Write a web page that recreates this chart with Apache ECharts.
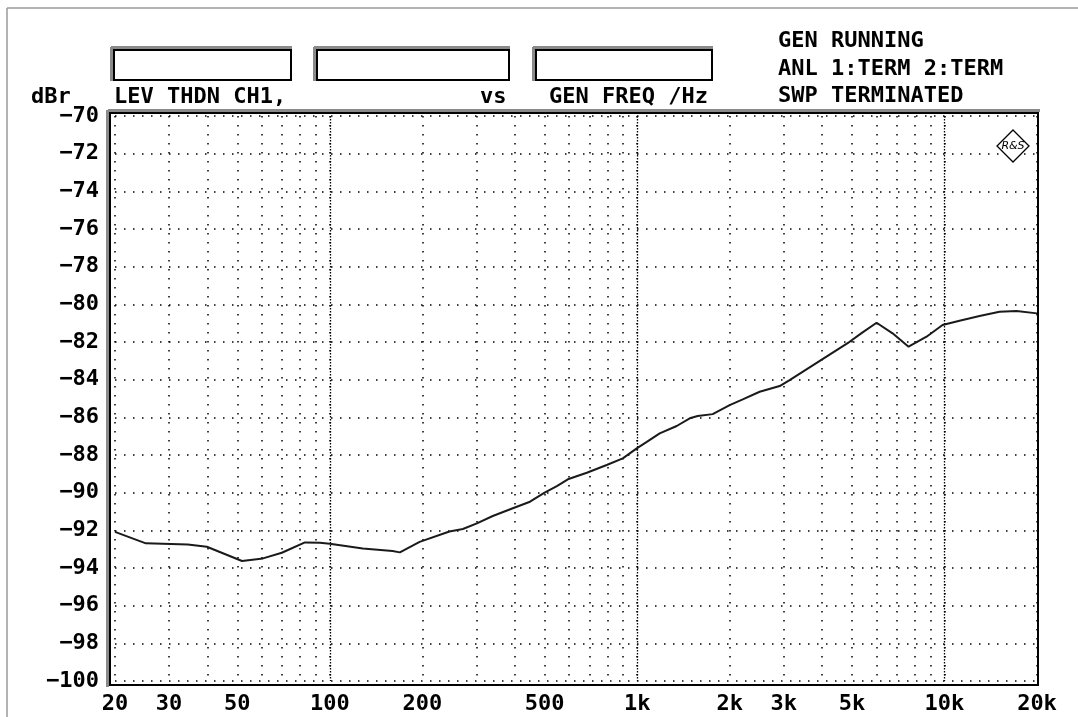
<!DOCTYPE html>
<html><head><meta charset="utf-8">
<script src="https://cdn.jsdelivr.net/npm/echarts@6/dist/echarts.min.js"></script>
<style>html,body{margin:0;padding:0;background:#fff}#c{width:1078px;height:717px}</style>
</head><body><div id="c"></div>
<script>
// ---- data ----
const freqHz = [20, 25.2, 34.5, 39.8, 51.8, 60.6, 69.8, 83, 92.8, 100, 128, 160, 169, 196, 245,
  271, 301, 339, 394, 448, 500, 548, 595, 686, 796, 898, 997, 1075, 1184, 1345, 1483, 1574, 1761,
  2000, 2206, 2504, 2909, 3134, 4912, 5415, 6013, 6778, 7641, 8742, 9857, 11194, 13005, 15101, 17152, 20000];
const thdnDbr = [-92.08, -92.69, -92.75, -92.87, -93.63, -93.49, -93.19, -92.64, -92.66, -92.71, -92.96, -93.10, -93.17, -92.61, -92.06,
  -91.93, -91.63, -91.24, -90.83, -90.48, -90.0, -89.65, -89.29, -88.94, -88.53, -88.18, -87.65, -87.30, -86.85, -86.46, -86.05, -85.93, -85.83,
  -85.35, -85.05, -84.64, -84.34, -84.02, -81.99, -81.49, -80.98, -81.54, -82.25, -81.72, -81.10, -80.87, -80.62, -80.39, -80.36, -80.48];

const xLabelValues = [20, 30, 50, 100, 200, 500, 1000, 2000, 3000, 5000, 10000, 20000];
const xTickLabels = ['20', '30', '50', '100', '200', '500', '1k', '2k', '3k', '5k', '10k', '20k'];
const xGridValues = [20, 30, 40, 50, 60, 70, 80, 90, 100, 200, 300, 400, 500, 600, 700, 800, 900,
  1000, 2000, 3000, 4000, 5000, 6000, 7000, 8000, 9000, 10000, 20000];
const xDecadeValues = [100, 1000, 10000];
const yMin = -100, yMax = -70, yStep = 2;
const yTickLabels = ['−100', '−98', '−96', '−94', '−92', '−90', '−88', '−86', '−84', '−82', '−80', '−78', '−76', '−74', '−72', '−70'];

const headerLeft = ['dBr', 'LEV THDN CH1,', 'vs', 'GEN FREQ /Hz'];
const statusLines = ['GEN RUNNING', 'ANL 1:TERM 2:TERM', 'SWP TERMINATED'];

// ---- chart ----
const FONT = '"DejaVu Sans Mono", "Liberation Mono", monospace';
const line = (x1, y1, x2, y2, c, w) => ({ type: 'line', shape: { x1, y1, x2, y2 }, style: { stroke: c, lineWidth: w } });
const box = (x1, y1, x2, y2) => ([
  line(x1 - 3, y1 - 2.5, x2 + 1, y1 - 2.5, '#8a8a8a', 3),
  line(x1 - 2.5, y1 - 3, x1 - 2.5, y2 + 1, '#8a8a8a', 3),
  { type: 'rect', shape: { x: x1, y: y1, width: x2 - x1, height: y2 - y1 }, style: { fill: '#fff', stroke: '#000', lineWidth: 2 } }
]);
const label = (x, y, s) => ({ type: 'text', x, y, style: { text: s, font: 'bold 22px ' + FONT, fill: '#000' } });

const graphics = [
  line(7, 8, 1078, 8, '#9a9a9a', 1.5),
  line(7, 8, 7, 717, '#9a9a9a', 1.5),
  ...box(114, 50, 291, 80),
  ...box(317, 50, 509, 80),
  ...box(536, 50, 712, 80),
  label(31, 86, headerLeft[0]),
  label(114, 86, headerLeft[1]),
  label(480, 86, headerLeft[2]),
  label(549, 86, headerLeft[3]),
  label(778, 30, statusLines[0]),
  label(778, 58, statusLines[1]),
  label(778, 85, statusLines[2]),
  // plot frame
  line(108, 110.5, 1040, 110.5, '#8a8a8a', 3),
  line(107.5, 110, 107.5, 687, '#8a8a8a', 3),
  { type: 'rect', z: 100, shape: { x: 110, y: 113, width: 928, height: 572 }, style: { fill: 'none', stroke: '#000', lineWidth: 2 } },
  // R&S logo
  { type: 'polygon', z: 100, shape: { points: [[1013, 130], [1029, 146], [1013, 162], [997, 146]] }, style: { fill: '#fff', stroke: '#000', lineWidth: 1.3 } },
  { type: 'text', z: 101, x: 1013, y: 146, style: { text: 'R&S', font: 'italic 11px "DejaVu Sans"', fill: '#000', textAlign: 'center', textVerticalAlign: 'middle' } }
];

const chart = echarts.init(document.getElementById('c'), null, { renderer: 'canvas' });
chart.setOption({
  animation: false,
  backgroundColor: '#fff',
  grid: { left: 115, right: 41, top: 116, bottom: 36, containLabel: false },
  xAxis: [{
    type: 'log', logBase: 10, min: 20, max: 20000,
    axisLine: { show: false },
    axisTick: { show: false, customValues: xGridValues },
    axisLabel: {
      customValues: xLabelValues, margin: 12,
      color: '#000', fontFamily: FONT, fontWeight: 'bold', fontSize: 22,
      formatter: v => { const i = xLabelValues.findIndex(t => Math.abs(t - v) / t < 1e-6); return i >= 0 ? xTickLabels[i] : ''; }
    },
    splitLine: { show: true, lineStyle: { color: '#000', width: 1.5, type: [1.5, 7.5] } }
  }, {
    type: 'log', logBase: 10, min: 20, max: 20000, position: 'bottom',
    axisLine: { show: false },
    axisTick: { show: false, customValues: xDecadeValues },
    axisLabel: { show: false, customValues: xDecadeValues },
    splitLine: { show: true, lineStyle: { color: '#000', width: 1.3, type: [1.5, 1.5] } }
  }],
  yAxis: {
    type: 'value', min: yMin, max: yMax, interval: yStep,
    axisLine: { show: false }, axisTick: { show: false },
    axisLabel: {
      margin: 16, color: '#000', fontFamily: FONT, fontWeight: 'bold', fontSize: 22,
      formatter: v => yTickLabels[Math.round((v - yMin) / yStep)]
    },
    splitLine: { show: true, lineStyle: { color: '#000', width: 1.5, type: [1.5, 7.5] } }
  },
  series: [{
    type: 'line', xAxisIndex: 0, symbol: 'none', z: 50,
    data: freqHz.map((f, i) => [f, thdnDbr[i]]),
    lineStyle: { color: '#1a1a1a', width: 2 }
  }],
  graphic: graphics
});
</script>
</body></html>
